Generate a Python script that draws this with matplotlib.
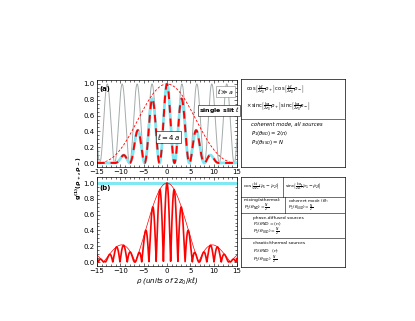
import numpy as np
import matplotlib.pyplot as plt

# values
xticks = [-15, -10, -5, 0, 5, 10, 15]
yticks = [0.0, 0.2, 0.4, 0.6, 0.8, 1.0]
fringe_a = 3.2       # fringe spacing in panel (a)
env_a = 12.8         # first zero of the l = 4a envelope
single_slit = 15.0   # first zero of the "single slit l" curve
fringe_b = 1.55      # fringe spacing in panel (b)
env_b = 6.8          # first zero of the envelope in panel (b)

rho = np.linspace(-15, 15, 3001)
gray_a = np.cos(np.pi * rho / fringe_a) ** 2
slit_a = np.sinc(rho / single_slit) ** 2
double_a = gray_a * np.sinc(rho / env_a) ** 2
env_line_b = np.abs(np.sinc(rho / env_b))
red_b = np.abs(np.cos(np.pi * rho / fringe_b)) * env_line_b

W, H = 415, 321
fig = plt.figure(figsize=(W / 100, H / 100), dpi=100)


def px(x0, y0, x1, y1):
    return [x0 / W, 1 - y1 / H, (x1 - x0) / W, (y1 - y0) / H]


def style(ax):
    ax.set_xlim(-15, 15)
    ax.set_xticks(xticks)
    ax.set_yticks(yticks)
    ax.set_xticks(np.arange(-15, 16, 1), minor=True)
    ax.set_yticks(np.arange(0, 1.05, 0.05), minor=True)
    ax.tick_params(which='both', direction='in', top=True, right=True,
                   labelsize=5, pad=1.5, width=0.4)
    ax.tick_params(which='major', length=2.5)
    ax.tick_params(which='minor', length=1.2)
    for s in ax.spines.values():
        s.set_linewidth(0.5)


axa = fig.add_axes(px(97, 80, 237, 167))
axa.plot(rho, gray_a, color='#a3abab', lw=0.7)
axa.plot(rho, slit_a, color='red', lw=0.6, ls=(0, (3, 2)))
axa.plot(rho, double_a, color='#7fe8f2', lw=2.0)
axa.plot(rho, double_a, color='red', lw=1.4, ls=(0, (4, 3)))
axa.set_ylim(-0.05, 1.05)
style(axa)
axa.text(-14.4, 0.98, '(a)', fontsize=5, fontweight='bold', va='top')
bbox = dict(boxstyle='square,pad=0.15', fc='white', ec='black', lw=0.4)
axa.text(12.6, 0.91, r'$\ell \gg a$', fontsize=4.5, ha='center', va='center',
         bbox=dict(boxstyle='square,pad=0.15', fc='white', ec='gray', lw=0.4))
axa.annotate(r'single slit $\ell$', xy=(5.2, 0.64), xytext=(6.8, 0.665),
             fontsize=4.5, fontweight='bold', ha='left', va='center', bbox=bbox,
             arrowprops=dict(arrowstyle='-', lw=0.4, color='black'))
axa.text(0.4, 0.33, r'$\ell = 4\,a$', fontsize=5, ha='center', va='center', bbox=bbox)

axb = fig.add_axes(px(97, 177, 237, 266))
axb.axhline(1.0, color='#7fe8f2', lw=2.2)
axb.plot(rho, env_line_b, color='red', lw=0.5)
axb.plot(rho, red_b, color='red', lw=1.2)
axb.set_ylim(-0.05, 1.076)
style(axb)
axb.text(-14.4, 0.97, '(b)', fontsize=5, fontweight='bold', va='top')
axb.set_xlabel(r'$\rho$ (units of $2z_0/k\ell$)', fontsize=5, style='italic', labelpad=1)

fig.text(79 / W, 1 - 178 / H, r'$\mathbf{g^{(1)}(\rho_+,\rho_-)}$', rotation=90,
         fontsize=4.6, ha='center', va='center')

fs = 3.8
# right-hand box for (a)
bx = fig.add_axes(px(241, 79, 345, 167))
bx.set_xlim(0, 1)
bx.set_ylim(88, 0)
bx.set_xticks([])
bx.set_yticks([])
for s in bx.spines.values():
    s.set_linewidth(0.5)
bx.axhline(40, color='black', lw=0.4)
bx.text(0.05, 11, r'$\cos\left[\frac{k\ell}{2z_0}\rho_+\right]\,\cos\left[\frac{k\ell}{2z_0}\rho_-\right]$',
        fontsize=fs, va='center')
bx.text(0.05, 28, r'$\times\,\mathrm{sinc}\left[\frac{ka}{2z_0}\rho_+\right]\,\mathrm{sinc}\left[\frac{ka}{2z_0}\rho_-\right]$',
        fontsize=fs, va='center')
bx.text(0.1, 46, 'coherent mode, all sources', fontsize=fs, style='italic', va='center')
bx.text(0.1, 55, r'$P_1(\theta_{ND}) = 2\langle n\rangle$', fontsize=fs, va='center')
bx.text(0.1, 64, r'$P_1(\theta_{SSD}) = N$', fontsize=fs, va='center')

# right-hand box for (b)
fs2 = 3.2
by = fig.add_axes(px(241, 177, 345, 267))
by.set_xlim(0, 1)
by.set_ylim(90, 0)
by.set_xticks([])
by.set_yticks([])
for s in by.spines.values():
    s.set_linewidth(0.5)
for yy in (20, 36, 61):
    by.axhline(yy, color='black', lw=0.4)
by.plot([0.40, 0.40], [0, 20], color='black', lw=0.4)
by.plot([0.42, 0.42], [20, 36], color='black', lw=0.4)
by.text(0.02, 10, r'$\cos\left[\frac{k\ell}{2z_0}(\bar\rho_1-\bar\rho_2)\right]$',
        fontsize=fs2, va='center')
by.text(0.42, 10, r'$\mathrm{sinc}\left[\frac{ka}{2z_0}|\bar\rho_1-\bar\rho_2|\right]$',
        fontsize=fs2, va='center')
by.text(0.03, 23.5, 'mixing/athermal:', fontsize=fs2, va='center')
by.text(0.03, 31.5, r'$P_1(\theta_{ND}) = \frac{N}{2}$', fontsize=fs2, va='center')
by.text(0.45, 23.5, r'coherent mode ($\theta$):', fontsize=3.0, va='center')
by.text(0.45, 31.5, r'$P_1(\theta_{SSD}) = \frac{N}{2}$', fontsize=3.0, va='center')
by.text(0.12, 40.5, 'phase-diffused sources', fontsize=fs2, va='center')
by.text(0.12, 47.5, r'$P_1(\theta_{ND}) = \langle n\rangle$', fontsize=fs2, va='center')
by.text(0.12, 55.5, r'$P_1(\theta_{SSD}) = \frac{N}{2}$', fontsize=fs2, va='center')
by.text(0.12, 66, 'chaotic/thermal sources', fontsize=fs2, va='center')
by.text(0.12, 74, r'$P_1(\theta_{ND})\ \ \langle n\rangle$', fontsize=fs2, va='center')
by.text(0.12, 83, r'$P_1(\theta_{SSD})\ \ \frac{N}{2}$', fontsize=fs2, va='center')

fig.savefig('out.png', dpi=100)
